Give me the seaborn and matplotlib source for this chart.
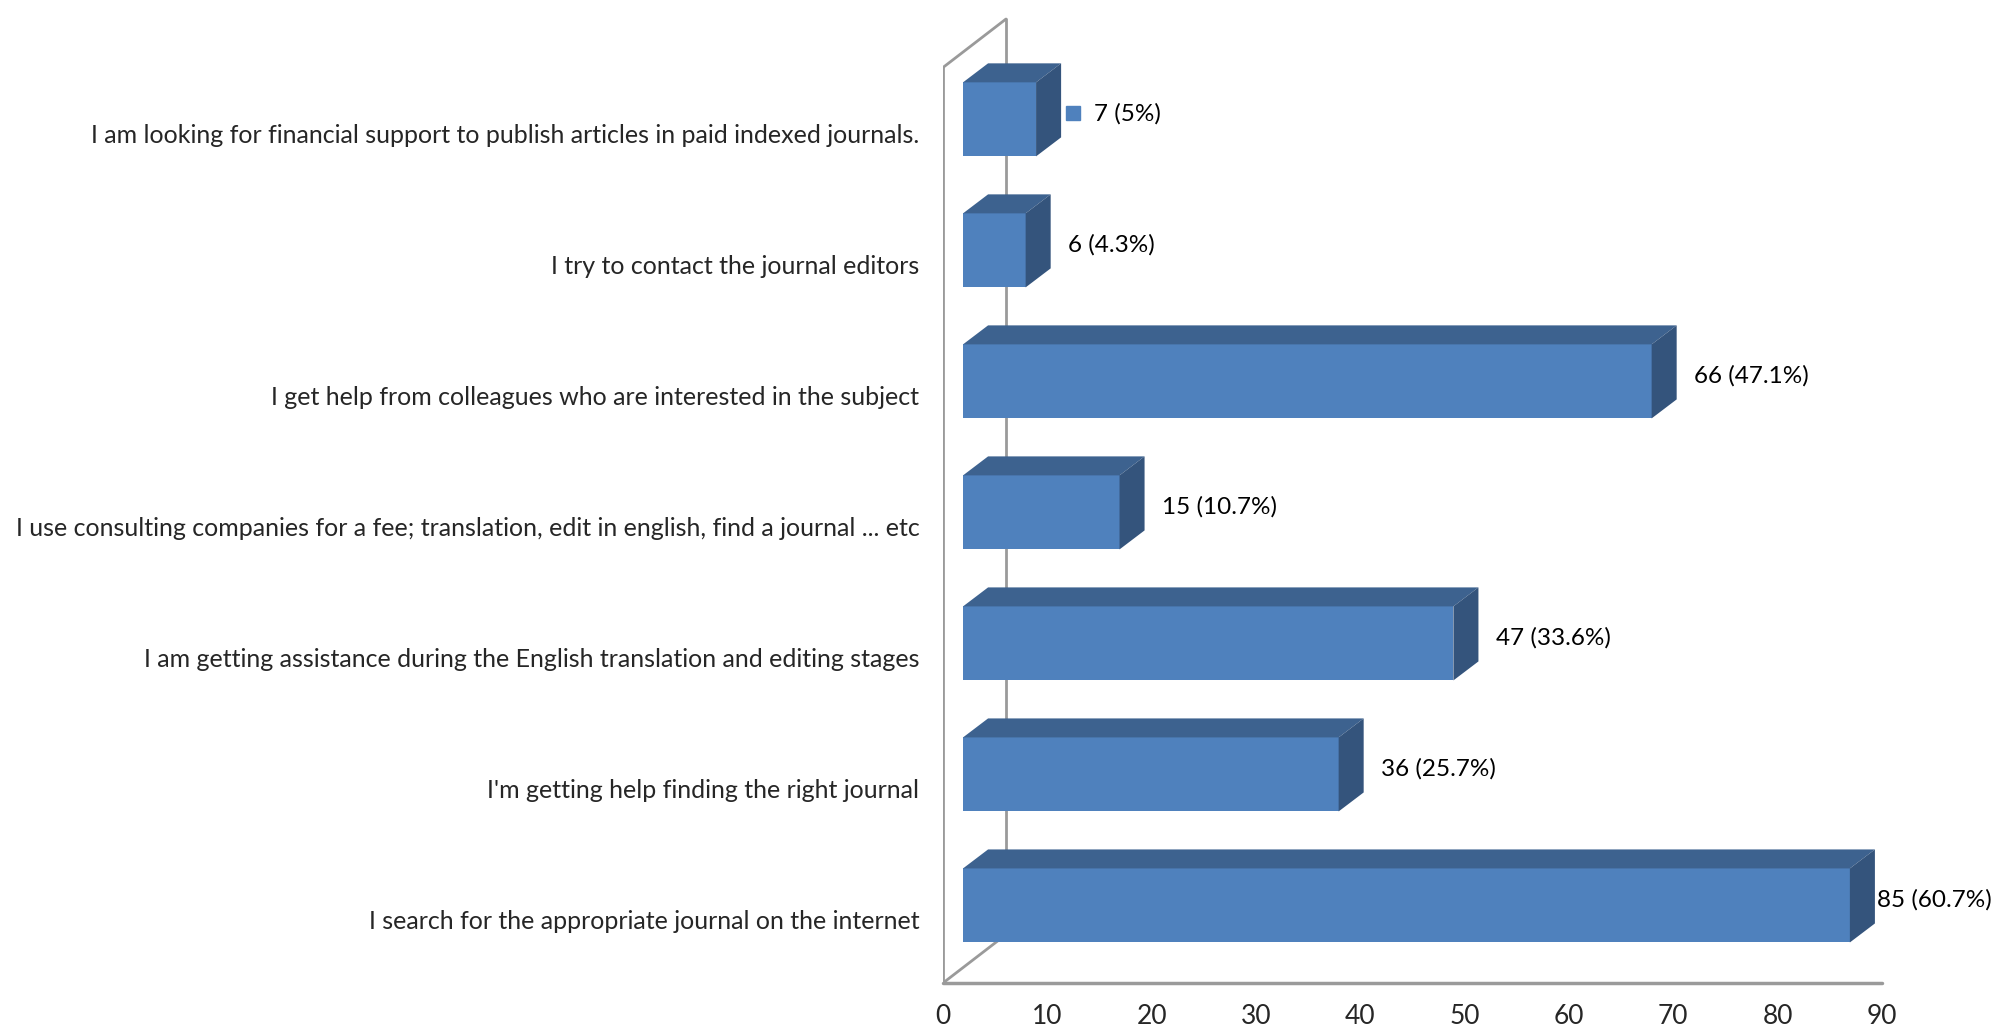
import matplotlib.pyplot as plt
import pandas as pd
import seaborn as sns
from matplotlib.patches import Polygon

# Survey answers, top to bottom as in the chart
answers = [
    'I am looking for financial support to publish articles in paid indexed journals.',
    'I try to contact the journal editors',
    'I get help from colleagues who are interested in the subject',
    'I use consulting companies for a fee; translation, edit in english, find a journal ... etc',
    'I am getting assistance during the English translation and editing stages',
    "I'm getting help finding the right journal",
    'I search for the appropriate journal on the internet',
]
counts = [7, 6, 66, 15, 47, 36, 85]
percents = ['5%', '4.3%', '47.1%', '10.7%', '33.6%', '25.7%', '60.7%']
xticks = [0, 10, 20, 30, 40, 50, 60, 70, 80, 90]

df = pd.DataFrame({'answer': answers, 'count': counts, 'pct': percents})

FRONT = '#4F81BD'
TOP = '#3D628F'
SIDE = '#34547C'
WALL = '#9A9A9A'

sns.set_style('white')
plt.rcParams['font.family'] = ['Lato', 'DejaVu Sans']

fig = plt.figure(figsize=(19.91, 10.28), dpi=100)
ax = fig.add_axes([943 / 1991, 45 / 1028, 939 / 1991, 983 / 1028])

# 3d look: bars start a bit off the wall, with a depth offset
x_off = 1.92
dx, dy = 2.4, 0.145
wall_dx, wall_dy = 6.04, 0.37
floor_y = 6.592
wall_top = -0.396

# wall + floor frame
ax.plot([0, 0], [floor_y, wall_top], color=WALL, lw=2, zorder=1)
ax.plot([0, wall_dx], [wall_top, wall_top - wall_dy], color=WALL, lw=2, zorder=1)
ax.plot([wall_dx, wall_dx], [wall_top - wall_dy, floor_y - wall_dy], color=WALL, lw=2, zorder=1)
ax.plot([0, wall_dx], [floor_y, floor_y - wall_dy], color=WALL, lw=2, zorder=1)
ax.plot([0, 90], [floor_y, floor_y], color=WALL, lw=2.5, zorder=1, clip_on=False)

sns.barplot(data=df, x='count', y='answer', orient='h', color=FRONT,
            saturation=1, width=0.565, ax=ax, zorder=3)

for i, p in enumerate(ax.patches):
    p.set_x(p.get_x() + x_off)
    p.set_edgecolor('none')
    x0, x1 = p.get_x(), p.get_x() + p.get_width()
    yt, yb = p.get_y(), p.get_y() + p.get_height()
    top = Polygon([(x0, yt), (x1, yt), (x1 + dx, yt - dy), (x0 + dx, yt - dy)],
                  closed=True, fc=TOP, ec='none', zorder=3)
    side = Polygon([(x1, yt), (x1 + dx, yt - dy), (x1 + dx, yb - dy), (x1, yb)],
                   closed=True, fc=SIDE, ec='none', zorder=3)
    ax.add_patch(top)
    ax.add_patch(side)

    yc = (yt + yb) / 2 - 0.046
    lx = min(x1 + dx + 1.7, 89.5)
    if i == 0:
        ax.plot(x1 + dx + 1.1, yc, marker='s', ms=10, color=FRONT, clip_on=False, zorder=4)
        lx = x1 + dx + 3.2
    ax.text(lx, yc, f'{counts[i]} ({percents[i]})', va='center', ha='left',
            fontsize=17.5, color='black', clip_on=False)

ax.set_xlim(0, 90)
ax.set_ylim(floor_y, -0.911)
ax.set_xticks(xticks)
ax.set_xticklabels([str(t) for t in xticks], fontsize=19)
ax.tick_params(axis='x', length=0, pad=15)
ax.set_yticks([i + 0.107 for i in range(len(answers))])
ax.set_yticklabels(answers, fontsize=18)
ax.tick_params(axis='y', length=0, pad=17)
ax.set_xlabel('')
ax.set_ylabel('')
for s in ax.spines.values():
    s.set_visible(False)

fig.savefig('out.png', dpi=100)
